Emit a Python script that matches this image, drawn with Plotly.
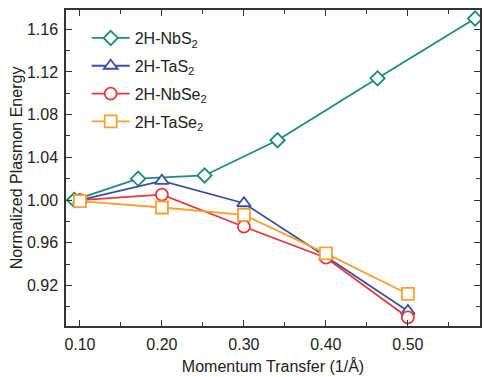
import plotly.graph_objects as go

x_nbs2 = [0.093, 0.171, 0.252, 0.341, 0.463, 0.582]
y_nbs2 = [1.000, 1.020, 1.023, 1.056, 1.114, 1.170]

x_q = [0.10, 0.20, 0.30, 0.40, 0.50]
y_tas2 = [1.000, 1.018, 0.997, 0.947, 0.896]
y_nbse2 = [1.000, 1.005, 0.975, 0.946, 0.890]
y_tase2 = [0.999, 0.993, 0.986, 0.950, 0.912]

names = ["2H-NbS<sub>2</sub>", "2H-TaS<sub>2</sub>", "2H-NbSe<sub>2</sub>", "2H-TaSe<sub>2</sub>"]
colors = ["#1a8c78", "#3a4fa3", "#e5383e", "#f5a033"]
symbols = ["diamond", "triangle-up", "circle", "square"]
sizes = [11, 12, 12, 12]

series = [(x_nbs2, y_nbs2), (x_q, y_tas2), (x_q, y_nbse2), (x_q, y_tase2)]

fig = go.Figure()
for i, ((xs, ys), n, c, s, sz) in enumerate(zip(series, names, colors, symbols, sizes)):
    fig.add_trace(go.Scatter(
        x=xs, y=ys, name=n, mode="lines+markers", legendgroup=f"g{i}",
        line=dict(color=c, width=1.8),
        marker=dict(symbol=s, size=sz, color="white", line=dict(color=c, width=1.8)),
    ))

font = "Liberation Sans, Arial, sans-serif"
fig.update_layout(
    width=484, height=377,
    margin=dict(l=66, r=2, t=10, b=51),
    plot_bgcolor="white", paper_bgcolor="white",
    font=dict(family=font, size=16, color="#222"),
    showlegend=True,
    legend=dict(x=0.05, y=0.965, xanchor="left", yanchor="top",
                bgcolor="rgba(0,0,0,0)", font=dict(size=16),
                tracegroupgap=4, itemwidth=38),
)
axis_common = dict(
    showgrid=False, zeroline=False, showline=True, linecolor="#333", linewidth=1.5,
    mirror="ticks", ticks="inside", ticklen=6, tickwidth=1.2, tickcolor="#333",
)
fig.update_xaxes(
    range=[0.083, 0.588], tickvals=[0.10, 0.20, 0.30, 0.40, 0.50],
    ticktext=["0.10", "0.20", "0.30", "0.40", "0.50"],
    ticklabelstandoff=3,
    minor=dict(dtick=0.05, tick0=0.0, ticks="inside", ticklen=4, tickcolor="#333"),
    title=dict(text="Momentum Transfer (1/Å)", font=dict(size=16), standoff=9),
    **axis_common,
)
fig.update_yaxes(
    range=[0.882, 1.178], tickvals=[0.92, 0.96, 1.00, 1.04, 1.08, 1.12, 1.16],
    ticktext=["0.92", "0.96", "1.00", "1.04", "1.08", "1.12", "1.16"],
    ticklabelstandoff=3,
    minor=dict(dtick=0.02, tick0=0.0, ticks="inside", ticklen=4, tickcolor="#333"),
    title=dict(text="Normalized Plasmon Energy", font=dict(size=16), standoff=0),
    **axis_common,
)

fig.write_html("out.html")
